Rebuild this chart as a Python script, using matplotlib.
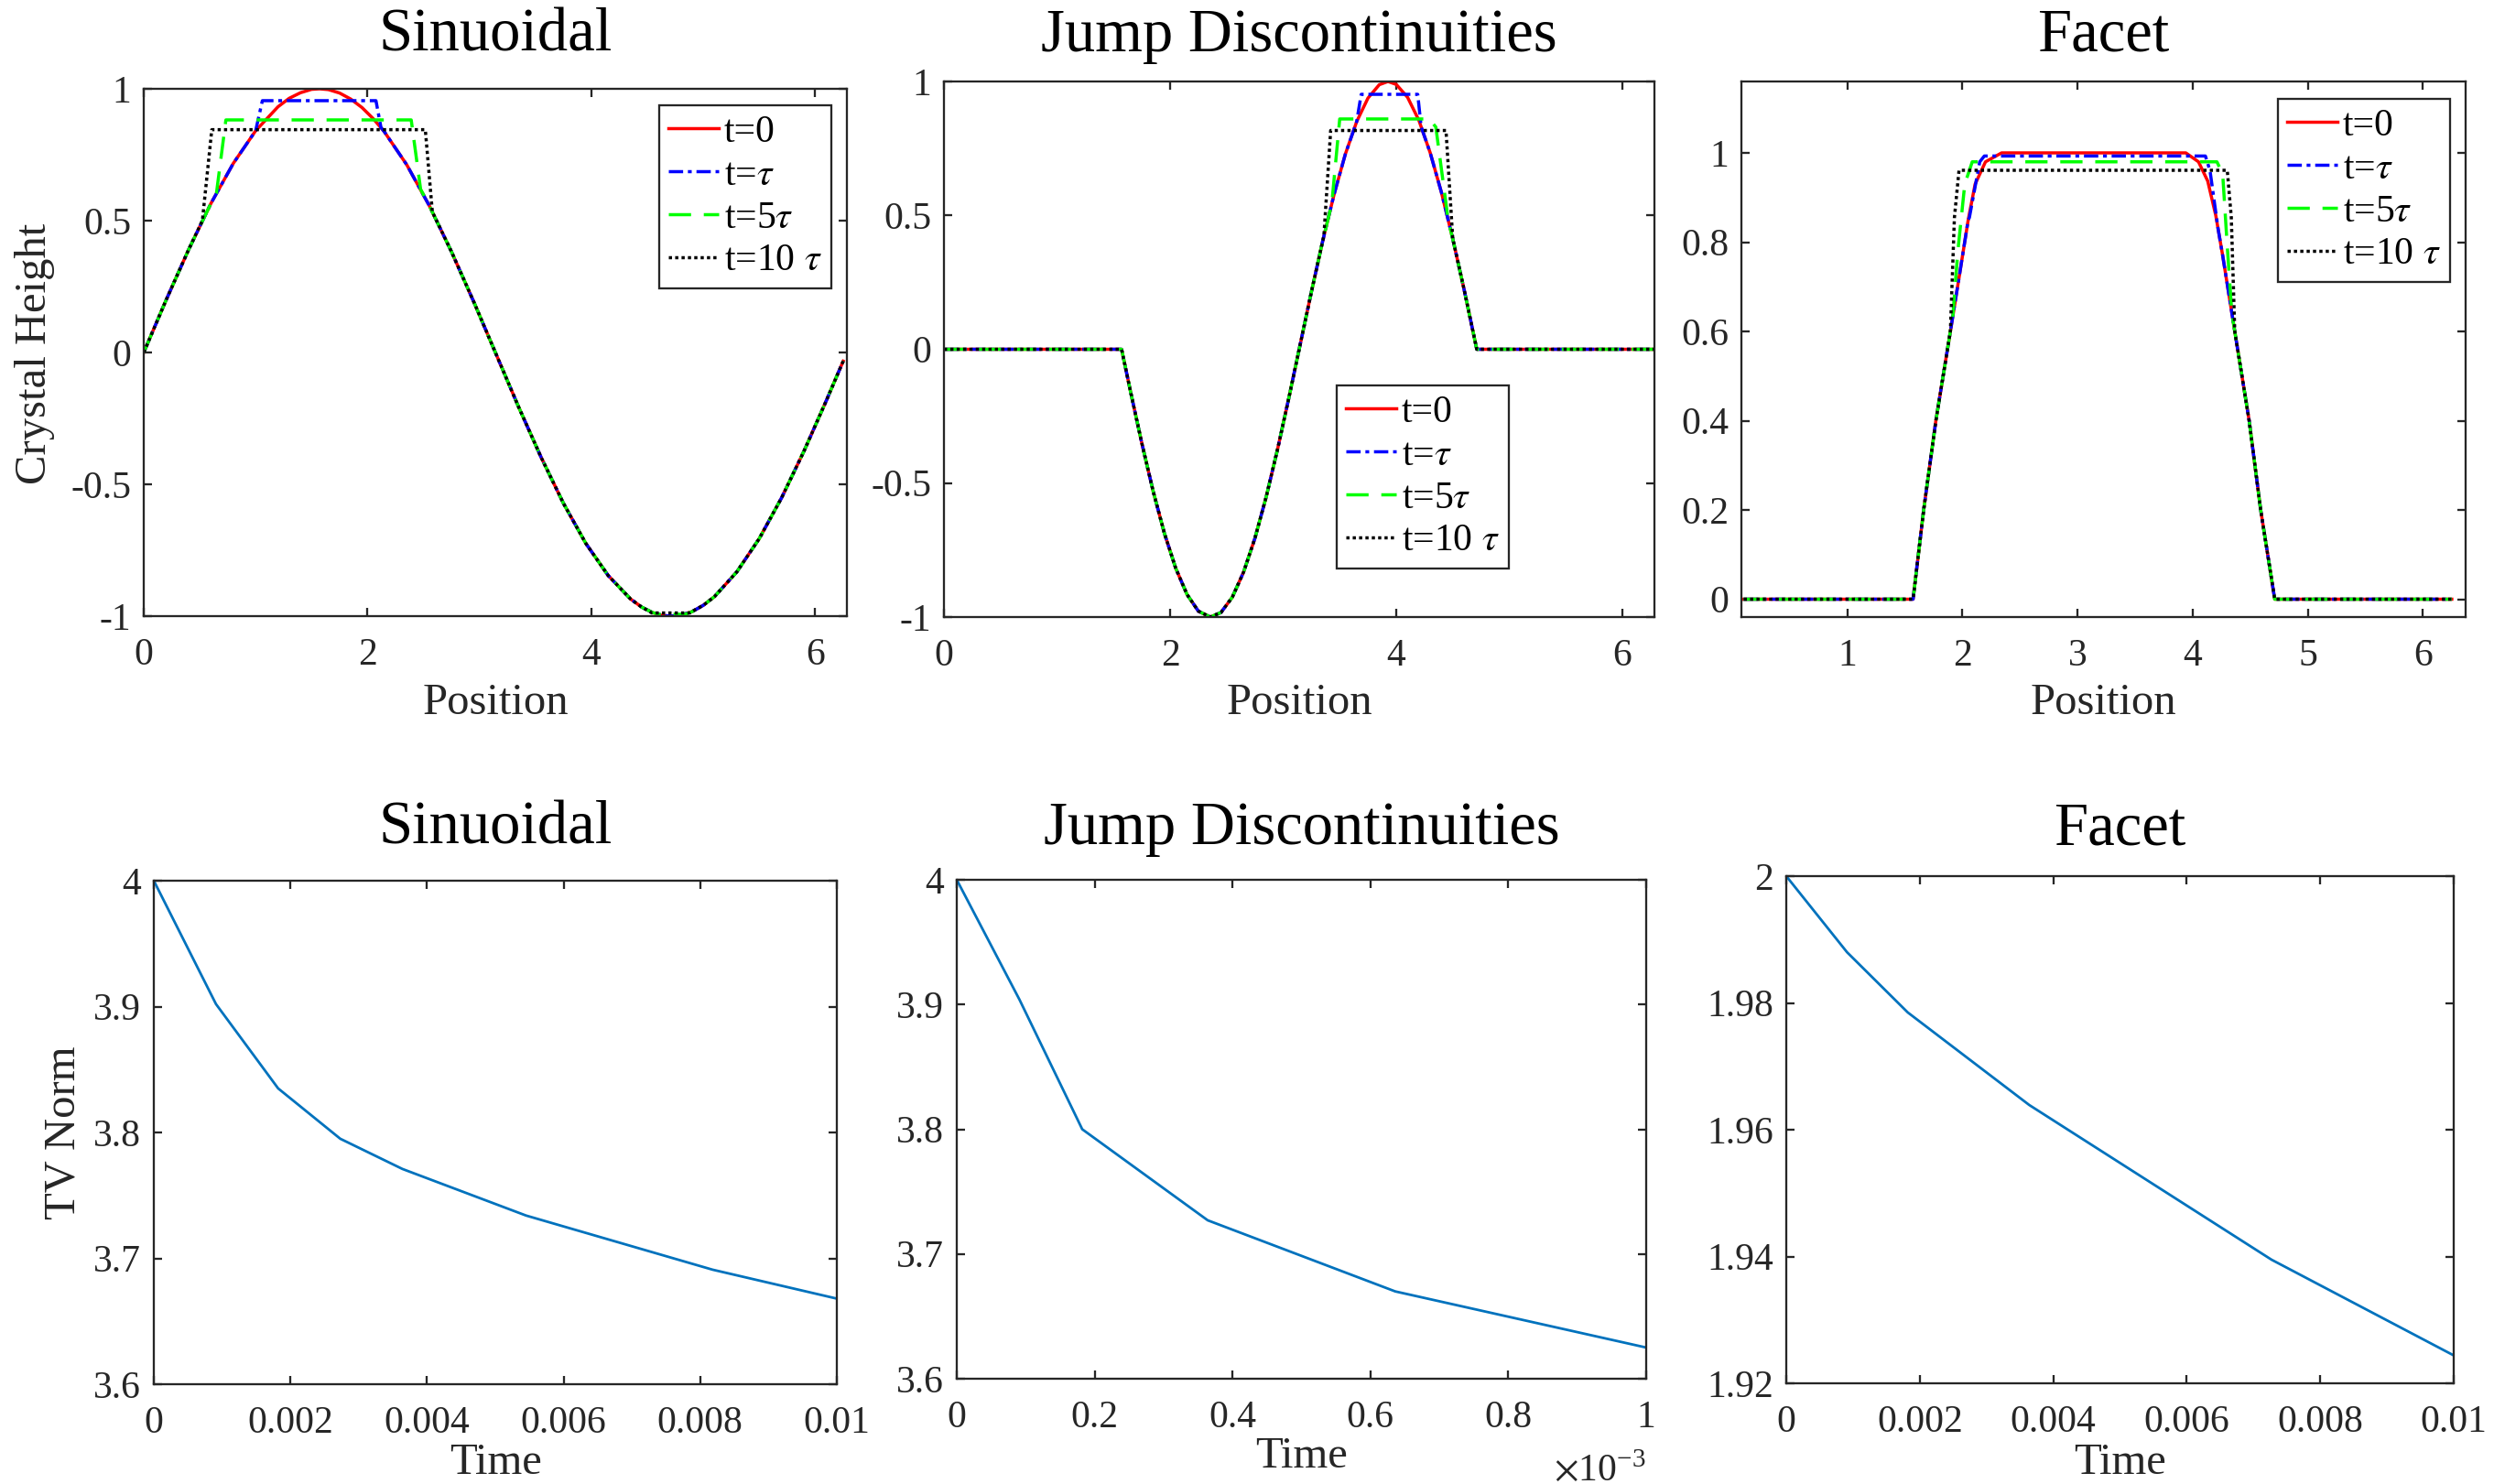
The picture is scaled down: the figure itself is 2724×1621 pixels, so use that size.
import numpy as np
import matplotlib
matplotlib.use('Agg')
import matplotlib.pyplot as plt
from matplotlib.ticker import FuncFormatter

plt.rcParams['font.family'] = ['Liberation Serif', 'DejaVu Serif']
plt.rcParams['mathtext.fontset'] = 'stix'
plt.rcParams['axes.unicode_minus'] = False

W, H = 2724, 1621
INK = '#262626'

# ---- top row: crystal height profiles ----
sin_x = [0, 0.2, 0.4, 0.6, 0.8, 1.0, 1.2, 1.3, 1.4, 1.5, 1.571, 1.65, 1.75, 1.85, 1.95,
         2.05, 2.15, 2.35, 2.55, 2.75, 2.95, 3.142, 3.35, 3.55, 3.75, 3.95, 4.15, 4.35,
         4.45, 4.55, 4.63, 4.712, 4.8, 4.9, 5.0, 5.1, 5.3, 5.5, 5.7, 5.9, 6.1, 6.25]
sin_y = [0, 0.199, 0.389, 0.565, 0.717, 0.841, 0.932, 0.964, 0.985, 0.998, 1.0, 0.997,
         0.984, 0.961, 0.929, 0.887, 0.837, 0.712, 0.558, 0.382, 0.191, 0.0, -0.207,
         -0.397, -0.572, -0.724, -0.846, -0.935, -0.966, -0.987, -0.997, -1.0, -0.996,
         -0.983, -0.959, -0.926, -0.832, -0.706, -0.551, -0.374, -0.182, -0.033]
sin_tau = [[(1.00, 0.841), (1.06, 0.955), (2.075, 0.955), (2.12, 0.853)]]
sin_5tau = [[(0.65, 0.605), (0.734, 0.882), (2.39, 0.882), (2.474, 0.619)],
            [(4.56, -0.988), (4.60, -0.993), (4.83, -0.993), (4.86, -0.99)]]
sin_10tau = [[(0.524, 0.500), (0.608, 0.845), (2.516, 0.845), (2.579, 0.533)],
             [(4.51, -0.980), (4.54, -0.988), (4.88, -0.988), (4.905, -0.981)]]

jump_x = [0, 1.571, 1.65, 1.75, 1.85, 1.95, 2.05, 2.15, 2.25, 2.356, 2.45, 2.55, 2.65,
          2.75, 2.85, 2.95, 3.05, 3.15, 3.25, 3.35, 3.45, 3.55, 3.65, 3.75, 3.85, 3.927,
          4.0, 4.1, 4.2, 4.3, 4.4, 4.5, 4.6, 4.712, 6.283]
jump_y = [0, 0, -0.158, -0.351, -0.530, -0.688, -0.818, -0.916, -0.978, -1.0, -0.983,
          -0.926, -0.832, -0.706, -0.551, -0.374, -0.182, 0.017, 0.215, 0.405, 0.578,
          0.729, 0.850, 0.938, 0.988, 1.0, 0.989, 0.941, 0.855, 0.734, 0.585, 0.412,
          0.223, 0, 0]
jump_tau = [[(3.65, 0.850), (3.69, 0.952), (4.19, 0.952), (4.22, 0.831)]]
jump_5tau = [[(3.43, 0.544), (3.50, 0.86), (4.29, 0.86), (4.35, 0.83), (4.46, 0.48)]]
jump_10tau = [[(3.36, 0.423), (3.42, 0.817), (4.44, 0.817), (4.50, 0.412)]]

facet_x = [0.1, 1.571, 1.663, 1.769, 1.895, 1.97, 2.05, 2.11, 2.2, 2.34, 3.94, 4.05,
           4.13, 4.2, 4.26, 4.365, 4.49, 4.59, 4.712, 6.25]
facet_y = [0, 0, 0.2, 0.4, 0.6, 0.72, 0.85, 0.93, 0.98, 1.0, 1.0, 0.98, 0.937, 0.86,
           0.77, 0.6, 0.4, 0.2, 0, 0]
facet_tau = [[(2.06, 0.855), (2.15, 0.98), (2.19, 0.993), (4.11, 0.993), (4.15, 0.96),
              (4.22, 0.83)]]
facet_5tau = [[(1.916, 0.633), (1.96, 0.78), (2.02, 0.93), (2.085, 0.98), (4.21, 0.98),
               (4.26, 0.953), (4.30, 0.79), (4.34, 0.64)]]
facet_10tau = [[(1.895, 0.6), (1.93, 0.855), (1.97, 0.961), (4.30, 0.961), (4.335, 0.855),
                (4.365, 0.6)]]

# ---- bottom row: TV norm over time ----
tv_sin_t = [0, 0.00091, 0.00182, 0.00273, 0.00364, 0.00545, 0.00818, 0.01]
tv_sin = [4.0, 3.902, 3.835, 3.795, 3.771, 3.734, 3.691, 3.668]
tv_jump_t = [0, 0.0000909, 0.000182, 0.000364, 0.000636, 0.001]
tv_jump = [4.0, 3.904, 3.800, 3.727, 3.670, 3.625]
tv_facet_t = [0, 0.00091, 0.00182, 0.00364, 0.00727, 0.01]
tv_facet = [2.0, 1.988, 1.9785, 1.9639, 1.9395, 1.9244]

titles = ['Sinuoidal', 'Jump Discontinuities', 'Facet']
labels = ['t=0', r't=$\tau$', r't=5$\tau$', r't=10 $\tau$']


def splice(xb, yb, spans):
    pts = list(zip(xb, yb))
    for seg in spans:
        x0, x1 = seg[0][0], seg[-1][0]
        pts = [p for p in pts if p[0] < x0] + list(seg) + [p for p in pts if p[0] > x1]
    return [p[0] for p in pts], [p[1] for p in pts]


def box(l, r, t, b):
    return [l / W, 1 - b / H, (r - l) / W, (b - t) / H]


fig = plt.figure(figsize=(W / 100, H / 100), dpi=100)

fmt = FuncFormatter(lambda v, p: '%g' % v)


def style(ax, top_px, title_base):
    for s in ax.spines.values():
        s.set_linewidth(1.65)
        s.set_color(INK)
    ax.tick_params(direction='in', length=6.5, width=1.65, top=True, right=True,
                   labelsize=30, colors=INK, labelcolor=INK)
    ax.tick_params(axis='x', pad=17)
    ax.tick_params(axis='y', pad=10)
    ax.xaxis.set_major_formatter(fmt)
    ax.yaxis.set_major_formatter(fmt)
    return (top_px - title_base) / (100 / 72)


top_boxes = [(157, 925, 97, 673), (1031, 1807, 89, 674), (1902, 2693, 89, 674)]
bot_boxes = [(168, 914, 962, 1512), (1045, 1798, 961, 1506), (1951, 2680, 957, 1511)]

profiles = [
    (sin_x, sin_y, sin_tau, sin_5tau, sin_10tau),
    (jump_x, jump_y, jump_tau, jump_5tau, jump_10tau),
    (facet_x, facet_y, facet_tau, facet_5tau, facet_10tau),
]
leg_anchor = [('upper right', 908, 115), ('upper left', 1460, 421), ('upper right', 2676, 108)]

for i, (bx, (xb, yb, s1, s5, s10)) in enumerate(zip(top_boxes, profiles)):
    ax = fig.add_axes(box(*bx))
    lw = 2.5
    ax.plot(xb, yb, color='#FF0000', lw=lw, label=labels[0])
    ax.plot(*splice(xb, yb, s1), color='#0000FF', lw=lw, ls=(0, (4.5, 1.5, 1.2, 1.5)),
            label=labels[1])
    ax.plot(*splice(xb, yb, s5), color='#00FF00', lw=lw, ls=(0, (7, 4)), label=labels[2])
    ax.plot(*splice(xb, yb, s10), color='#000000', lw=lw, ls=(0, (1, 1)), label=labels[3])
    pad = style(ax, bx[2], 56)
    ax.set_title(titles[i], fontsize=48, pad=pad)
    ax.set_xlabel('Position', fontsize=35, va='center', color=INK)
    ax.xaxis.set_label_coords((bx[0] + bx[1]) / 2 / W, 1 - 768 / H, transform=fig.transFigure)
    if i == 2:
        ax.set_xlim(0.08, 6.37)
        ax.set_ylim(-0.04, 1.16)
        ax.set_xticks([1, 2, 3, 4, 5, 6])
        ax.set_yticks([0, 0.2, 0.4, 0.6, 0.8, 1])
    else:
        ax.set_xlim(0, 2 * np.pi)
        ax.set_ylim(-1, 1)
        ax.set_xticks([0, 2, 4, 6])
        ax.set_yticks([-1, -0.5, 0, 0.5, 1])
    if i == 0:
        ax.set_ylabel('Crystal Height', fontsize=35, va='center', color=INK)
        ax.yaxis.set_label_coords(38 / W, 1 - 386 / H, transform=fig.transFigure)
    loc, lx, ly = leg_anchor[i]
    leg = ax.legend(loc=loc, bbox_to_anchor=(lx / W, 1 - ly / H), bbox_transform=fig.transFigure,
                    fontsize=30, fancybox=False, framealpha=1, edgecolor=INK, borderaxespad=0,
                    handlelength=1.3, handletextpad=0.15, borderpad=0.25, labelspacing=0.2)
    leg.get_frame().set_linewidth(1.65)

tv_series = [(tv_sin_t, tv_sin), (tv_jump_t, tv_jump), (tv_facet_t, tv_facet)]
for i, (bx, (t, v)) in enumerate(zip(bot_boxes, tv_series)):
    ax = fig.add_axes(box(*bx))
    ax.plot(t, v, color='#0072BD', lw=2.0)
    pad = style(ax, bx[2], 922)
    ax.set_title(titles[i], fontsize=48, pad=pad)
    ax.set_xlabel('Time', fontsize=35, va='center', color=INK)
    ylab = [1598, 1591, 1598][i]
    ax.xaxis.set_label_coords((bx[0] + bx[1]) / 2 / W, 1 - ylab / H, transform=fig.transFigure)
    if i == 1:
        ax.set_xlim(0, 0.001)
        ax.set_xticks([0, 0.0002, 0.0004, 0.0006, 0.0008, 0.001])
        ax.xaxis.set_major_formatter(FuncFormatter(lambda v, p: '%g' % (v * 1e3)))
        fig.text(bx[1] / W, 1 - 1617 / H, r'$\times$10$^{\mathregular{-3}}$', fontsize=30,
                 ha='right', va='baseline', color=INK)
    else:
        ax.set_xlim(0, 0.01)
        ax.set_xticks([0, 0.002, 0.004, 0.006, 0.008, 0.01])
    if i == 2:
        ax.set_ylim(1.92, 2.0)
        ax.set_yticks([1.92, 1.94, 1.96, 1.98, 2.0])
    else:
        ax.set_ylim(3.6, 4.0)
        ax.set_yticks([3.6, 3.7, 3.8, 3.9, 4.0])
    if i == 0:
        ax.set_ylabel('TV Norm', fontsize=35, va='center', color=INK)
        ax.yaxis.set_label_coords(70 / W, 1 - 1237 / H, transform=fig.transFigure)

fig.savefig('out.png', dpi=100)
